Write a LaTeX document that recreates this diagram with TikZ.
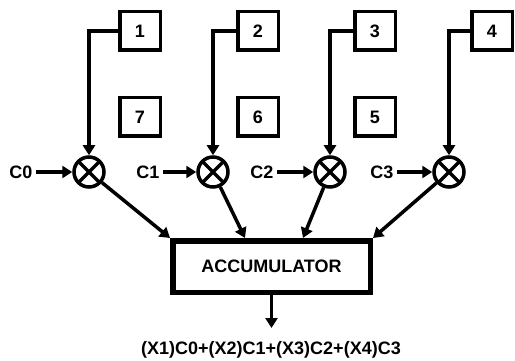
\documentclass[tikz,border=0pt]{standalone}
\usepackage{fontspec}
\setmainfont{Liberation Sans}
\usetikzlibrary{arrows.meta}
\tikzset{
  every node/.style={font=\fontsize{18}{21}\selectfont\bfseries},
  tap/.style={draw,line width=3.5pt,minimum width=40.5pt,minimum height=38.5pt,inner sep=0pt},
  mult/.style={draw,circle,line width=3.5pt,minimum size=30pt,inner sep=0pt,
    path picture={\draw[line width=3.5pt] (path picture bounding box.north west) -- (path picture bounding box.south east)
      (path picture bounding box.south west) -- (path picture bounding box.north east);}},
  acc/.style={draw,line width=5.5pt,minimum width=197.5pt,minimum height=51.5pt},
  arr/.style={-{Triangle[length=10pt,width=12pt]},line width=3.5pt}
}
\begin{document}
\begin{tikzpicture}[x=1pt,y=-1pt]
            \useasboundingbox (0,0) rectangle (515,361);
            \node[tap] (N1) at (140,31) {1};
            \node[tap] (N2) at (258,31) {2};
            \node[tap] (N3) at (375,31) {3};
            \node[tap] (N4) at (492,31) {4};
            \node[tap] (N7) at (140,117) {7};
            \node[tap] (N6) at (258,117) {6};
            \node[tap] (N5) at (375,117) {5};
            \node[mult] (M0) at (89,172) {};
            \node[mult] (M1) at (213,172) {};
            \node[mult] (M2) at (330,172) {};
            \node[mult] (M3) at (449,172) {};
            \node (C0) at (21,172) {C0};
            \node (C1) at (148,172) {C1};
            \node (C2) at (262,172) {C2};
            \node (C3) at (382,172) {C3};
            \node[acc] (ACC) at (271.5,266.5) {ACCUMULATOR};
            \coordinate (END) at (271.5,328);
            \node (OUT) at (271,350) {(X1)C0+(X2)C1+(X3)C2+(X4)C3};

            \draw[arr] (N1.west) -| (M0.north); \draw[arr] (N2.west) -| (M1.north); \draw[arr] (N3.west) -| (M2.north); \draw[arr] (N4.west) -| (M3.north);
            \draw[arr] (C0) to (M0); \draw[arr] (C1) to (M1); \draw[arr] (C2) to (M2); \draw[arr] (C3) to (M3);
            \draw[arr] (M0) to (ACC.north west); \draw[arr] (M1) to ([xshift=-26.5pt]ACC.north); \draw[arr] (M2) to ([xshift=31.5pt]ACC.north); \draw[arr] (M3) to (ACC.north east);
            \draw[arr] (ACC.south) to (END);
        \end{tikzpicture}
\end{document}
